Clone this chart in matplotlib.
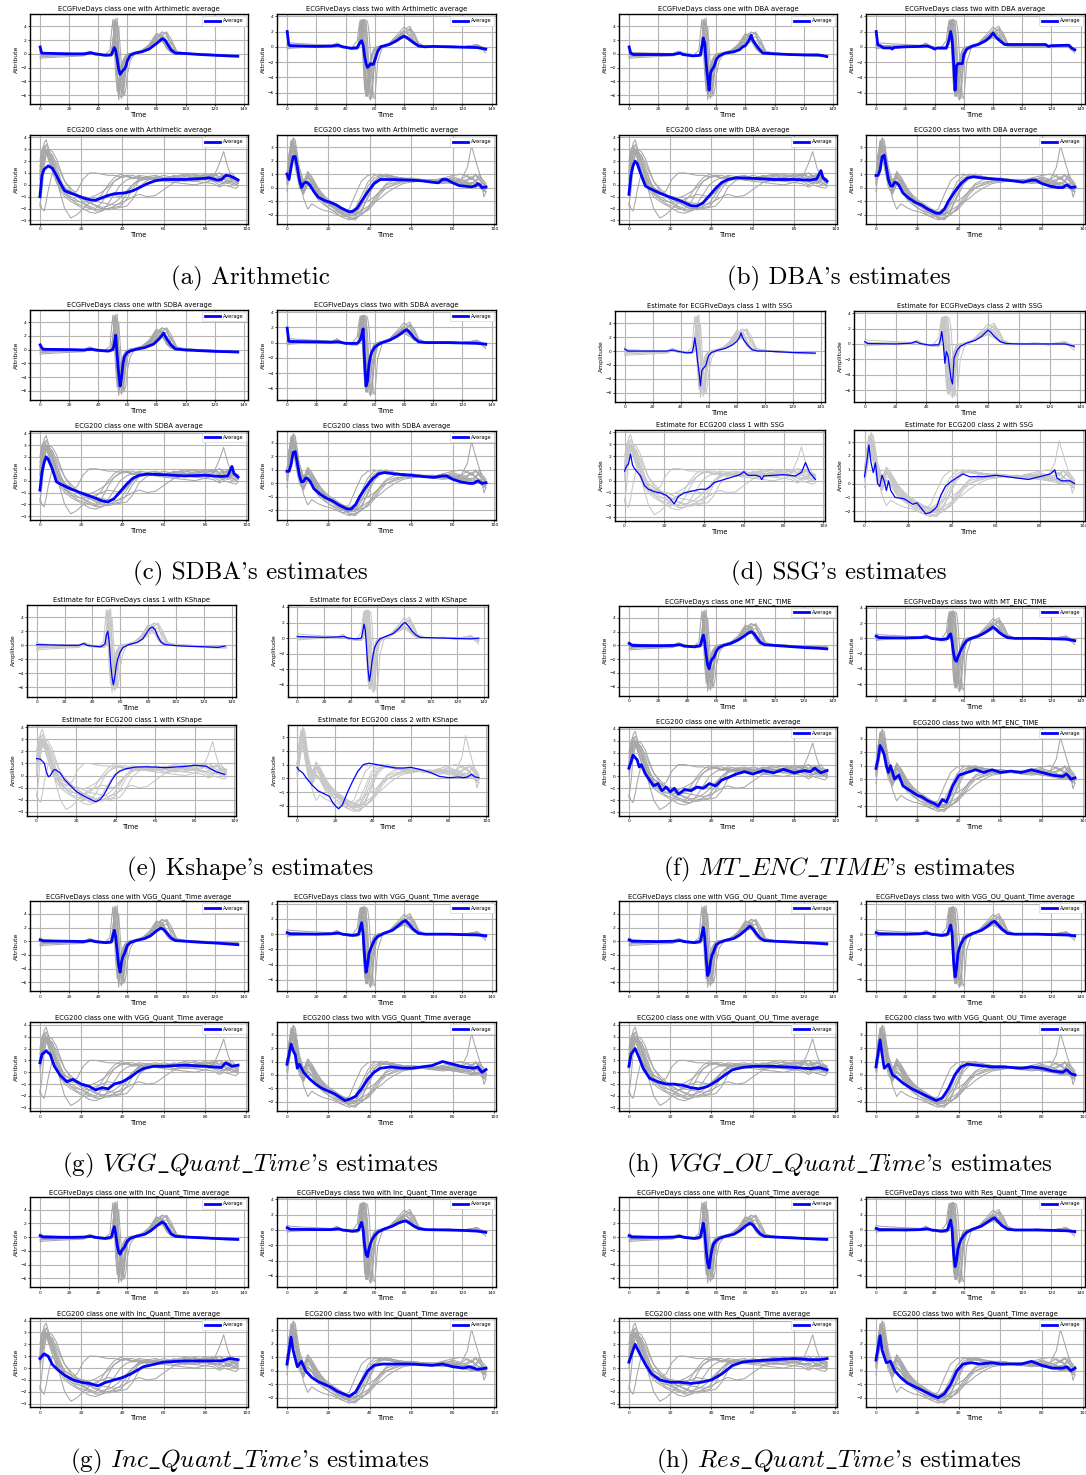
import matplotlib
matplotlib.use("Agg")
import matplotlib.pyplot as plt

W, H = 1086, 1475
plt.rcParams["mathtext.fontset"] = "cm"

# --- sample grids (time index) ---
T5 = [0, 2, 10, 20, 30, 34, 38, 44, 48, 49, 50, 51, 52, 53, 54, 55, 56, 57, 58,
      59, 60, 62, 65, 70, 75, 80, 84, 87, 90, 94, 100, 110, 120, 130, 136]
T2 = [0, 1, 2, 3, 4, 6, 8, 10, 12, 15, 18, 21, 24, 27, 30, 33, 36, 39, 42, 45,
      48, 52, 56, 60, 65, 70, 75, 80, 84, 87, 89, 91, 93, 95, 96]

# --- grey series: ECGFiveDays class one / two ---
E5_ONE = [
    [0.3, 0.1, 0.1, 0.0, 0.0, 0.3, 0.0, -0.2, -0.2, 0.0, 1.0, 4.8, 2.0, -2.5, -5.5, -4.5, -3.0, -2.0, -1.2, -0.6, -0.3, 0.0, 0.1, 0.4, 0.9, 2.2, 2.8, 1.6, 0.5, 0.1, 0.0, -0.1, -0.2, -0.3, -0.3],
    [-0.7, -0.6, -0.5, -0.4, -0.3, 0.1, -0.2, -0.3, -0.3, -0.1, 0.3, 1.5, 5.1, 3.0, -2.0, -6.0, -6.5, -4.0, -2.0, -1.0, -0.5, -0.1, 0.1, 0.4, 1.0, 2.6, 3.2, 2.8, 1.0, 0.1, 0.0, -0.1, -0.3, -0.4, -0.4],
    [0.5, 0.2, 0.1, 0.1, 0.0, 0.4, 0.1, -0.1, -0.1, 0.2, 0.8, 2.0, 0.5, -3.0, -5.0, -4.0, -2.5, -1.5, -0.8, -0.3, -0.1, 0.0, 0.2, 0.5, 1.1, 2.0, 2.4, 1.2, 0.3, 0.0, 0.0, -0.1, -0.2, -0.2, -0.2],
    [-0.2, -0.2, -0.1, -0.1, -0.1, 0.2, -0.1, -0.2, -0.2, -0.1, 0.0, 0.5, 2.5, 5.2, 1.0, -3.0, -6.0, -6.2, -3.5, -1.5, -0.6, -0.1, 0.1, 0.4, 1.0, 2.2, 3.1, 3.0, 1.5, 0.2, 0.1, 0.0, -0.1, -0.2, -0.3],
    [0.0, 0.0, 0.0, -0.1, -0.1, 0.2, 0.0, -0.2, -0.2, 0.5, 2.0, 3.5, 0.0, -4.0, -5.8, -4.0, -2.2, -1.3, -0.7, -0.3, -0.1, 0.0, 0.1, 0.3, 0.8, 1.6, 1.8, 1.0, 0.3, 0.0, 0.0, -0.1, -0.2, -0.2, -0.3],
    [0.2, 0.1, 0.0, 0.0, -0.1, 0.1, -0.1, -0.3, -0.3, -0.2, 0.2, 1.0, 3.0, 2.0, -1.0, -4.5, -5.5, -5.0, -3.0, -1.5, -0.7, -0.2, 0.0, 0.4, 1.2, 2.8, 2.6, 1.4, 0.4, 0.1, 0.0, -0.1, -0.2, -0.3, -0.3],
    [-0.4, -0.3, -0.3, -0.2, -0.2, 0.2, 0.0, -0.2, -0.2, 0.3, 1.5, 5.0, 1.0, -3.5, -6.7, -5.0, -3.0, -1.8, -1.0, -0.5, -0.2, 0.0, 0.1, 0.5, 1.4, 3.0, 2.2, 0.8, 0.2, 0.0, 0.0, -0.1, -0.2, -0.2, -0.3],
    [0.1, 0.0, 0.0, 0.0, 0.0, 0.3, 0.0, -0.2, -0.2, -0.1, 0.1, 0.3, 1.2, 2.0, 0.5, -2.0, -4.5, -5.8, -4.5, -2.5, -1.2, -0.3, 0.0, 0.3, 0.8, 1.8, 2.3, 2.5, 1.8, 0.3, 0.1, 0.0, -0.1, -0.2, -0.2],
    [0.4, 0.2, 0.1, 0.0, 0.0, 0.3, 0.0, -0.2, 0.5, 3.0, 5.0, 1.0, -3.0, -5.5, -4.0, -2.5, -1.5, -0.9, -0.5, -0.2, 0.0, 0.1, 0.2, 0.5, 1.2, 2.5, 2.0, 0.8, 0.2, 0.0, 0.0, -0.1, -0.2, -0.2, -0.3],
    [-0.5, -0.4, -0.3, -0.2, -0.2, 0.1, -0.1, -0.2, -0.2, -0.2, 0.0, 0.2, 0.5, 1.5, 4.0, 1.0, -2.0, -4.5, -6.0, -5.0, -3.0, -1.0, 0.0, 0.3, 0.7, 1.5, 2.6, 3.2, 2.2, 0.4, 0.1, 0.0, -0.1, -0.2, -0.3],
]
E5_TWO = [
    [0.3, 0.2, 0.1, 0.1, 0.1, 0.4, 0.0, -0.2, -0.2, 0.5, 2.5, 3.5, 3.0, 0.0, -4.0, -6.0, -5.0, -3.0, -1.5, -0.8, -0.3, 0.0, 0.1, 0.4, 1.0, 1.6, 1.0, 0.4, 0.1, 0.0, 0.0, 0.1, 0.0, 0.2, -0.3],
    [-0.3, -0.2, -0.1, 0.0, 0.0, 0.3, -0.1, -0.3, -0.3, 0.0, 1.0, 3.0, 3.6, 3.5, 1.0, -3.0, -6.5, -7.0, -5.0, -2.5, -1.0, -0.2, 0.1, 0.5, 1.5, 2.6, 2.0, 0.8, 0.2, 0.0, 0.1, 0.0, -0.1, 0.3, -0.5],
    [0.6, 0.5, 0.4, 0.3, 0.2, 0.3, 0.0, -0.2, -0.2, 0.3, 2.0, 3.5, 1.0, -3.0, -6.5, -5.5, -3.5, -2.0, -1.0, -0.5, -0.2, 0.0, 0.1, 0.3, 0.8, 1.2, 0.8, 0.3, 0.1, 0.0, 0.0, 0.0, 0.0, 0.1, -0.2],
    [0.0, 0.0, 0.0, 0.0, 0.0, 0.2, -0.1, -0.2, -0.2, -0.1, 0.5, 1.5, 3.0, 3.5, 3.2, 1.0, -2.5, -6.0, -6.8, -4.0, -2.0, -0.5, 0.0, 0.4, 1.2, 2.2, 2.7, 1.5, 0.4, 0.1, 0.0, 0.0, -0.1, 0.2, -0.8],
    [0.2, 0.1, 0.1, 0.1, 0.1, 0.5, 0.0, -0.2, -0.2, 0.8, 3.2, 2.5, -1.0, -5.0, -6.0, -4.5, -2.8, -1.8, -1.0, -0.4, -0.1, 0.0, 0.1, 0.4, 1.0, 1.5, 1.2, 0.5, 0.1, 0.0, 0.0, 0.1, 0.0, 0.2, -0.2],
    [-0.2, -0.1, 0.0, 0.0, 0.0, 0.3, -0.1, -0.2, -0.3, 0.2, 1.5, 3.4, 3.5, 2.0, -1.5, -5.5, -6.0, -4.5, -3.0, -1.8, -0.8, -0.1, 0.1, 0.5, 1.3, 2.0, 1.6, 0.6, 0.1, 0.0, 0.0, 0.0, -0.1, 0.3, -0.4],
    [0.1, 0.1, 0.1, 0.0, 0.0, 0.3, 0.0, -0.2, -0.2, 0.0, 0.8, 2.0, 3.5, 3.6, 2.5, -1.0, -4.5, -6.8, -6.0, -3.5, -1.5, -0.3, 0.0, 0.3, 1.0, 1.8, 2.3, 1.2, 0.3, 0.0, 0.0, 0.0, -0.1, 0.2, -0.3],
    [0.3, 0.2, 0.1, 0.1, 0.0, 0.3, 0.0, -0.3, -0.3, 0.4, 2.8, 3.5, 2.0, -2.0, -5.5, -6.5, -5.0, -3.0, -1.5, -0.7, -0.3, 0.0, 0.1, 0.4, 0.9, 1.3, 1.1, 0.4, 0.1, 0.0, 0.0, 0.1, 0.0, 0.2, -0.2],
    [0.2, 0.1, 0.1, 0.0, 0.0, 0.3, 0.0, -0.2, -0.2, -0.1, 0.3, 1.0, 2.0, 3.0, 3.5, 3.3, 2.0, -1.0, -4.0, -6.5, -6.8, -2.0, -0.2, 0.3, 0.9, 1.8, 2.4, 1.8, 0.5, 0.1, 0.0, 0.0, -0.1, 0.2, -0.4],
    [0.0, 0.0, 0.0, 0.0, 0.0, 0.4, 0.0, -0.2, 0.8, 2.5, 3.5, 2.5, -2.0, -5.5, -6.5, -5.0, -3.0, -2.0, -1.2, -0.6, -0.3, 0.0, 0.1, 0.4, 1.1, 2.0, 1.4, 0.5, 0.1, 0.0, 0.0, 0.0, 0.0, 0.3, -0.3],
]

# --- grey series: ECG200 class one / two ---
E2_ONE = [
    [1.0, 2.5, 3.5, 3.8, 3.2, 2.0, 0.8, 0.0, -0.5, -0.8, -0.5, 0.5, 1.0, 1.0, 0.9, 0.8, 0.8, 0.7, 0.8, 0.6, 0.7, 0.5, 0.6, 0.5, 0.7, 0.8, 0.6, 0.8, 0.9, 0.6, 0.7, 0.9, 0.4, 0.5, 0.3],
    [-1.8, -0.5, 1.5, 2.5, 2.8, 2.5, 1.5, 0.5, -0.5, -1.2, -1.6, -1.8, -2.0, -2.1, -2.0, -2.0, -1.9, -1.8, -1.2, -0.3, 0.3, 0.5, 0.4, 0.5, 0.3, 0.4, 0.3, 0.2, 0.4, 0.2, 0.1, 0.3, 0.0, 0.2, 0.1],
    [-1.5, -2.0, -2.2, -1.5, -0.5, 1.0, 0.5, -0.8, -2.0, -2.8, -2.5, -2.0, -1.5, -1.2, -1.0, -0.8, -0.9, -1.0, -0.5, 0.0, 0.5, 0.6, 0.5, 0.6, 0.5, 0.4, 0.6, 0.5, 0.3, 0.4, 0.2, 0.1, 0.3, 0.0, -0.1],
    [0.5, 1.5, 2.5, 3.0, 2.8, 2.0, 1.0, 0.0, -0.8, -1.2, -1.4, -1.5, -1.8, -2.0, -1.5, -0.5, 0.3, 0.7, 0.8, 0.8, 0.6, 0.5, 0.6, 0.4, 0.5, 0.6, 0.5, 0.4, 0.6, 1.8, 2.8, 1.5, 0.6, 0.3, 0.2],
    [2.0, 3.0, 3.3, 3.0, 2.5, 1.5, 0.8, 0.2, -0.3, -0.6, -0.9, -1.0, -1.1, -0.9, -0.6, -0.2, 0.3, 0.6, 0.7, 0.6, 0.8, 0.7, 0.4, 0.3, 0.2, 0.1, 0.0, 0.2, 0.1, -0.2, 0.0, -0.1, -0.2, -0.3, -0.1],
    [0.8, 2.0, 2.8, 3.0, 2.6, 1.8, 0.6, -0.3, -0.7, -1.0, -1.3, -1.6, -1.9, -2.2, -2.2, -2.0, -1.8, -1.5, -0.8, 0.0, 0.4, 0.7, 0.8, 0.6, 0.7, 0.9, 0.8, 0.6, 0.9, 0.7, 0.8, 0.5, 0.6, 0.4, 0.5],
    [1.5, 2.8, 3.0, 2.7, 2.2, 1.2, 0.3, -0.3, -0.6, -0.8, -0.9, -1.0, -1.2, -1.4, -1.5, -1.6, -1.7, -1.6, -1.3, -1.0, -0.8, -1.0, -0.9, -0.4, 0.2, 0.4, 0.3, 0.5, 0.3, 0.0, 0.2, 0.4, 0.2, 0.0, 0.1],
    [0.3, 1.2, 2.2, 2.8, 3.0, 2.8, 2.2, 1.2, 0.3, -0.5, -1.0, -1.4, -1.5, -1.4, -0.8, 0.0, 0.6, 0.9, 0.7, 0.5, 0.6, 0.4, 0.7, 0.5, 0.8, 0.5, 0.7, 0.9, 0.7, 1.0, 0.8, 0.7, 1.0, 0.5, 0.4],
    [0.0, 1.0, 2.0, 2.5, 2.8, 2.5, 1.8, 1.0, 0.3, -0.3, -0.8, -1.2, -1.5, -1.8, -2.0, -2.1, -2.0, -1.9, -1.8, -1.2, -0.2, 0.4, 0.5, 0.4, 0.6, 0.5, 0.6, 0.5, 0.7, 0.5, 0.6, 0.3, 0.5, 0.2, 0.1],
    [1.2, 2.2, 3.0, 3.4, 3.0, 2.2, 1.2, 0.4, -0.2, -0.6, -0.9, -1.2, -1.5, -1.7, -1.9, -1.8, -1.5, -1.1, -0.6, 0.0, 0.4, 0.6, 0.5, 0.4, 0.5, 0.3, 0.4, 0.6, 0.4, 0.3, 0.5, 0.2, 0.4, 0.6, 0.5],
    [0.5, 1.8, 2.6, 2.9, 2.4, 1.2, 0.2, -0.5, -1.0, -1.4, -1.7, -2.0, -2.3, -2.4, -2.2, -1.6, -0.8, 0.0, 0.4, 0.6, 0.5, 0.7, 0.6, 0.8, 0.6, 0.7, 0.9, 0.7, 0.8, 1.0, 0.6, 0.8, 0.7, 0.6, 0.3],
]
E2_TWO = [
    [0.5, 1.5, 3.0, 3.6, 3.2, 1.0, 0.2, 0.8, 0.5, -0.3, -0.8, -1.1, -1.4, -1.7, -1.9, -2.0, -1.3, -0.3, 0.5, 0.8, 0.8, 0.7, 0.6, 0.6, 0.5, 0.5, 0.4, 0.3, 0.2, 0.1, 0.0, 0.2, 0.1, 0.0, -0.1],
    [0.8, 2.0, 3.3, 3.0, 2.0, 0.3, -0.2, 0.5, 0.3, -0.5, -1.0, -1.4, -1.7, -2.0, -2.2, -2.3, -2.0, -1.5, -0.8, -0.2, 0.3, 0.6, 0.7, 0.6, 0.5, 0.5, 0.6, 0.4, 0.3, 0.4, 0.2, 0.1, 0.3, -0.2, -0.3],
    [-0.3, 1.0, 2.5, 3.7, 3.5, 1.5, 0.5, 1.0, 0.2, -0.6, -1.2, -1.6, -1.9, -2.2, -2.4, -2.2, -2.0, -1.6, -1.0, -0.3, 0.2, 0.4, 0.5, 0.6, 0.6, 0.5, 0.7, 0.5, 0.6, 1.5, 3.1, 2.0, 1.0, 0.3, 0.0],
    [1.0, 2.5, 3.0, 2.6, 1.5, 0.0, -0.5, 0.3, 0.0, -0.7, -1.0, -1.2, -1.5, -1.8, -1.6, -0.5, 0.5, 0.9, 1.0, 0.9, 0.8, 0.7, 0.6, 0.7, 0.6, 0.5, 0.4, 0.5, 0.3, 0.2, 0.4, 0.2, 0.0, -0.3, -0.1],
    [0.2, 1.2, 2.8, 3.3, 2.8, 0.8, 0.0, 0.7, 0.4, -0.4, -0.9, -1.3, -1.6, -1.9, -2.1, -2.1, -1.6, -0.8, 0.2, 0.7, 0.9, 0.8, 0.7, 0.6, 0.5, 0.6, 0.5, 0.3, 0.6, 0.9, 0.7, 1.0, 0.5, 0.3, 0.2],
    [0.6, 1.8, 2.0, 2.2, 1.8, 0.5, -0.8, -1.6, -1.2, -1.5, -1.7, -1.8, -2.0, -2.2, -2.0, -1.6, -1.2, -1.0, -0.7, -0.3, 0.0, 0.2, 0.4, 0.5, 0.6, 0.4, 0.6, 0.7, 0.5, 0.6, 0.8, 0.5, 1.0, -0.7, -0.3],
    [1.0, 2.2, 3.4, 3.2, 2.5, 1.0, 0.3, 1.2, 0.8, 0.0, -0.7, -1.2, -1.6, -1.9, -2.3, -2.4, -1.8, -0.6, 0.4, 0.9, 1.0, 0.8, 0.7, 0.7, 0.6, 0.6, 0.5, 0.5, 0.4, 0.3, 0.1, 0.0, 0.2, 0.0, 0.1],
    [0.4, 1.0, 2.2, 2.8, 2.4, 0.6, -0.3, 0.3, 0.0, -0.8, -1.1, -1.3, -1.5, -1.6, -1.8, -1.9, -1.9, -1.7, -1.2, -0.5, 0.0, 0.3, 0.5, 0.4, 0.6, 0.4, 0.3, 0.4, 0.2, 0.3, 0.0, 0.4, 0.3, 0.1, 0.0],
    [0.7, 1.6, 2.6, 3.1, 2.6, 0.9, 0.1, 0.9, 0.6, -0.2, -0.8, -1.2, -1.5, -1.8, -2.0, -1.9, -1.0, 0.1, 0.7, 0.9, 0.8, 0.7, 0.6, 0.5, 0.6, 0.5, 0.7, 0.9, 1.0, 0.8, 0.6, 0.9, 0.6, 0.2, 0.1],
    [0.3, 0.9, 1.8, 2.4, 2.2, 0.4, -0.4, 0.2, -0.1, -0.9, -1.3, -1.6, -1.8, -2.0, -2.1, -2.0, -1.7, -1.4, -1.1, -0.8, -0.4, 0.0, 0.3, 0.4, 0.5, 0.4, 0.5, 0.6, 0.4, 0.5, 0.7, 0.4, 0.8, 0.5, 0.3],
    [0.9, 2.4, 3.5, 3.4, 2.8, 1.2, 0.4, 1.1, 0.7, -0.1, -0.6, -1.0, -1.3, -1.6, -1.8, -1.5, -0.6, 0.4, 0.9, 1.0, 0.9, 0.8, 0.6, 0.6, 0.5, 0.4, 0.5, 0.8, 0.6, 0.4, 0.3, 0.5, 0.2, -0.2, 0.0],
]

# --- averages / estimates, (time, value) ---
ARITH_5A = [(0, 1.0), (1, 0.1), (10, 0.05), (20, 0.0), (30, 0.0), (35, 0.15), (38, 0.0), (45, -0.2), (49, -0.15), (50, 0.4), (51, 0.9), (52, 0.5), (53, -0.8), (54, -2.2), (55, -3.0), (56, -2.7), (57, -2.4), (58, -2.2), (59, -1.8), (60, -1.0), (62, -0.2), (65, 0.1), (70, 0.3), (75, 0.7), (80, 1.5), (84, 2.2), (86, 2.0), (88, 1.3), (90, 0.6), (93, 0.1), (100, 0.05), (110, -0.1), (120, -0.2), (130, -0.3), (136, -0.35)]
ARITH_5B = [(0, 2.0), (1, 0.3), (2, 0.15), (20, 0.05), (30, 0.1), (35, 0.2), (38, 0.0), (44, -0.2), (48, -0.1), (49, 0.3), (50, 0.6), (51, 0.8), (52, 0.2), (53, -1.2), (54, -2.2), (55, -2.7), (56, -2.5), (57, -2.2), (58, -2.3), (59, -2.3), (60, -1.8), (62, -0.6), (64, 0.0), (70, 0.3), (75, 0.8), (78, 1.2), (80, 1.4), (82, 1.2), (84, 0.9), (87, 0.5), (90, 0.1), (94, 0.0), (100, 0.05), (110, 0.0), (120, -0.05), (130, -0.1), (136, -0.3)]
ARITH_2A = [(0, -1.0), (1, 0.8), (2, 1.3), (4, 1.6), (6, 1.4), (8, 0.8), (10, 0.1), (12, -0.5), (15, -0.7), (18, -0.9), (21, -1.1), (24, -1.25), (27, -1.3), (30, -1.1), (33, -0.9), (36, -0.75), (40, -0.7), (42, -0.65), (45, -0.5), (48, -0.25), (52, 0.1), (56, 0.35), (60, 0.45), (65, 0.45), (70, 0.45), (75, 0.5), (80, 0.55), (82, 0.6), (84, 0.5), (86, 0.4), (88, 0.45), (90, 0.8), (92, 0.75), (94, 0.6), (96, 0.4)]
ARITH_2B = [(0, 1.0), (1, 0.6), (2, 1.5), (3, 2.3), (4, 2.3), (5, 1.5), (6, 0.6), (7, 0.0), (8, 0.3), (9, 0.4), (10, 0.35), (11, 0.2), (13, -0.3), (15, -0.7), (18, -0.95), (21, -1.1), (24, -1.3), (26, -1.5), (28, -1.65), (30, -1.8), (32, -1.75), (34, -1.5), (36, -1.0), (39, -0.3), (42, 0.3), (45, 0.6), (50, 0.6), (60, 0.55), (65, 0.5), (70, 0.4), (73, 0.35), (75, 0.6), (77, 0.6), (80, 0.35), (83, 0.15), (86, 0.1), (89, 0.05), (91, 0.15), (92, 0.3), (93, 0.2), (94, 0.0), (96, 0.05)]

DBA_5A = [(0, 1.0), (1, 0.1), (3, -0.1), (20, -0.1), (30, -0.1), (35, 0.1), (37, -0.1), (44, -0.3), (49, -0.2), (50, 1.0), (51, 2.3), (52, 1.5), (53, -1.5), (54, -3.5), (55, -5.3), (56, -2.8), (57, -2.3), (58, -2.0), (59, -1.5), (60, -0.8), (62, -0.3), (66, 0.1), (72, 0.3), (76, 0.6), (78, 1.0), (80, 1.2), (82, 1.8), (84, 2.7), (85, 2.0), (87, 1.4), (89, 0.8), (92, 0.1), (100, 0.0), (110, -0.1), (120, -0.15), (130, -0.15), (134, -0.3), (136, -0.4)]
DBA_5B = [(0, 2.0), (1, 0.3), (3, 0.1), (5, -0.15), (10, -0.15), (11, -0.3), (12, -0.1), (20, 0.0), (30, 0.05), (35, 0.1), (38, -0.1), (40, -0.3), (42, -0.15), (48, -0.15), (50, 1.0), (51, 2.0), (52, 1.0), (53, -2.0), (54, -5.7), (55, -2.5), (56, -2.2), (59, -2.2), (60, -1.0), (62, -0.3), (66, 0.1), (70, 0.3), (75, 0.8), (78, 1.3), (80, 1.8), (82, 1.3), (84, 0.9), (86, 0.6), (88, 0.3), (100, 0.3), (110, 0.3), (116, 0.3), (118, 0.05), (120, 0.15), (130, 0.2), (132, 0.2), (134, -0.2), (136, -0.4)]
DBA_2A = [(0, -0.8), (1, 0.8), (2, 1.6), (3, 2.0), (4, 1.8), (6, 0.8), (8, -0.1), (10, -0.3), (15, -0.7), (20, -1.05), (25, -1.35), (30, -1.75), (33, -1.8), (36, -1.5), (39, -0.9), (42, -0.3), (45, 0.2), (48, 0.45), (52, 0.6), (60, 0.55), (70, 0.45), (80, 0.45), (88, 0.4), (91, 0.5), (93, 1.2), (94, 0.6), (96, 0.3)]
DBA_2B = [(0, 0.9), (1, 0.9), (2, 1.3), (3, 2.3), (4, 2.4), (5, 1.5), (6, 0.6), (7, 0.15), (8, 0.1), (9, 0.4), (10, 0.35), (11, 0.2), (13, -0.4), (16, -0.8), (19, -1.1), (22, -1.3), (25, -1.6), (29, -1.9), (31, -1.9), (33, -1.6), (35, -1.0), (38, -0.3), (41, 0.3), (44, 0.7), (47, 0.8), (52, 0.7), (60, 0.6), (66, 0.5), (71, 0.4), (75, 0.55), (77, 0.55), (80, 0.3), (84, 0.1), (88, 0.0), (90, 0.0), (92, 0.2), (94, 0.0), (96, 0.05)]

SDBA_5A = [(0, 0.7), (1, 0.3), (2, 0.05), (20, 0.0), (30, -0.05), (35, 0.05), (40, -0.1), (47, -0.2), (50, 0.0), (51, 0.8), (52, 2.1), (53, -1.0), (54, -3.5), (55, -5.3), (56, -4.0), (57, -2.0), (58, -1.0), (60, -0.4), (62, -0.2), (66, 0.05), (72, 0.3), (78, 0.8), (82, 1.6), (85, 2.4), (87, 1.6), (90, 0.7), (93, 0.1), (100, -0.05), (110, -0.15), (120, -0.25), (130, -0.3), (136, -0.35)]
SDBA_5B = [(0, 1.9), (1, 0.2), (2, 0.15), (20, 0.1), (30, 0.05), (35, 0.1), (40, -0.1), (48, -0.1), (50, 0.3), (51, 1.0), (52, 1.8), (53, -2.5), (54, -5.7), (55, -5.0), (56, -2.8), (57, -1.8), (58, -1.2), (60, -0.6), (62, -0.3), (65, 0.0), (70, 0.3), (75, 0.8), (78, 1.2), (80, 1.5), (82, 1.7), (84, 1.3), (87, 0.6), (90, 0.1), (95, 0.0), (110, 0.0), (120, -0.05), (130, -0.1), (136, -0.2)]
SDBA_2A = [(0, -0.8), (1, 0.7), (2, 1.5), (3, 2.0), (4, 1.8), (6, 1.0), (8, -0.1), (10, -0.3), (15, -0.7), (20, -1.05), (25, -1.35), (30, -1.7), (33, -1.8), (36, -1.5), (39, -0.9), (42, -0.3), (45, 0.2), (48, 0.45), (52, 0.55), (60, 0.5), (70, 0.4), (80, 0.45), (88, 0.35), (91, 0.4), (93, 1.2), (94, 0.6), (96, 0.3)]
SDBA_2B = [(0, 0.9), (1, 0.9), (2, 1.4), (3, 2.3), (4, 2.35), (5, 1.5), (6, 0.6), (7, 0.1), (8, 0.15), (9, 0.4), (10, 0.35), (11, 0.2), (13, -0.4), (16, -0.8), (19, -1.1), (22, -1.3), (25, -1.6), (29, -1.9), (31, -1.9), (33, -1.6), (35, -1.0), (38, -0.3), (41, 0.3), (44, 0.7), (47, 0.8), (52, 0.7), (60, 0.6), (66, 0.5), (71, 0.45), (75, 0.55), (77, 0.55), (80, 0.3), (84, 0.1), (88, 0.0), (90, 0.0), (92, 0.2), (94, 0.0), (96, 0.05)]

SSG_5A = [(0, 0.3), (2, 0.0), (20, 0.0), (30, 0.0), (34, 0.15), (37, 0.0), (44, -0.25), (48, -0.2), (49, 0.5), (50, 1.9), (51, 0.5), (52, -1.5), (53, -3.0), (54, -5.0), (55, -2.8), (56, -2.5), (57, -2.3), (58, -2.0), (59, -1.2), (60, -0.6), (62, -0.2), (66, 0.1), (72, 0.4), (77, 0.9), (80, 1.4), (82, 2.0), (83, 2.6), (84, 2.0), (85, 1.6), (88, 0.8), (91, 0.2), (95, 0.0), (100, 0.0), (110, -0.1), (120, -0.2), (130, -0.25), (136, -0.3)]
SSG_5B = [(0, 0.3), (2, 0.05), (20, 0.0), (30, 0.1), (33, 0.3), (36, 0.05), (42, -0.15), (48, -0.1), (49, 0.5), (50, 1.6), (51, 0.0), (52, -2.5), (53, -1.0), (54, -1.5), (55, -3.0), (56, -4.5), (57, -5.2), (58, -1.8), (60, -0.8), (62, -0.3), (66, 0.1), (72, 0.5), (76, 1.0), (80, 1.8), (82, 1.5), (84, 1.0), (88, 0.3), (92, 0.05), (100, 0.0), (110, 0.0), (120, 0.0), (130, 0.0), (136, -0.3)]
SSG_2A = [(0, 0.8), (1, 1.2), (2, 1.4), (3, 2.2), (4, 1.3), (5, 1.0), (6, 0.8), (8, 0.4), (10, -0.4), (12, -0.7), (15, -0.9), (18, -1.0), (21, -1.2), (23, -1.5), (25, -1.9), (27, -1.3), (30, -1.0), (34, -0.85), (38, -0.7), (41, -0.7), (43, -0.5), (45, -0.15), (50, 0.1), (55, 0.35), (58, 0.5), (60, 0.75), (62, 0.45), (66, 0.45), (68, 0.35), (69, 0.1), (70, 0.4), (75, 0.45), (80, 0.5), (86, 0.4), (89, 0.7), (91, 1.5), (93, 0.7), (96, 0.1)]
SSG_2B = [(0, 0.5), (1, 1.5), (2, 2.8), (3, 1.5), (4, 0.8), (5, 1.5), (6, 0.0), (7, -0.2), (8, 0.6), (9, 0.2), (10, -0.5), (11, 0.2), (12, -0.5), (14, -1.0), (18, -1.1), (20, -1.3), (22, -1.5), (24, -1.4), (26, -1.8), (28, -2.2), (30, -2.1), (31, -2.0), (33, -1.7), (35, -0.8), (37, -0.2), (40, 0.2), (43, 0.5), (45, 0.7), (48, 0.5), (55, 0.5), (60, 0.6), (65, 0.5), (70, 0.4), (75, 0.3), (80, 0.5), (85, 0.7), (87, 1.0), (88, 0.4), (90, 0.2), (94, 0.2), (96, 0.0)]

KSHAPE_5A = [(0, 0.1), (10, 0.05), (20, 0.0), (30, 0.0), (33, 0.2), (34, 0.25), (36, 0.0), (40, -0.1), (46, -0.2), (49, 0.2), (50, 1.5), (51, 2.0), (52, 0.5), (53, -2.5), (54, -4.5), (55, -5.6), (56, -4.5), (57, -3.0), (58, -2.0), (60, -0.9), (62, -0.3), (66, 0.1), (72, 0.4), (76, 0.9), (79, 1.8), (81, 2.4), (83, 2.6), (85, 2.2), (87, 1.2), (89, 0.5), (92, 0.1), (100, -0.05), (110, -0.15), (120, -0.2), (130, -0.3), (135, -0.1)]
KSHAPE_5B = [(0, 0.2), (10, 0.15), (20, 0.1), (30, 0.15), (35, 0.2), (38, 0.0), (44, -0.1), (48, 0.0), (49, 0.8), (50, 1.8), (51, 1.0), (52, -1.5), (53, -4.0), (54, -5.5), (55, -4.5), (56, -3.0), (57, -2.0), (58, -1.2), (60, -0.5), (62, -0.1), (66, 0.2), (72, 0.6), (76, 1.2), (79, 1.8), (81, 2.0), (83, 1.6), (86, 0.9), (89, 0.4), (92, 0.1), (100, 0.05), (110, 0.0), (120, -0.05), (130, -0.1), (136, 0.0)]
KSHAPE_2A = [(0, 1.4), (2, 1.35), (4, 1.0), (5, 0.3), (6, -0.1), (7, 0.0), (8, 0.3), (9, 0.5), (10, 0.45), (12, 0.2), (14, -0.3), (17, -0.8), (20, -1.3), (23, -1.6), (26, -1.85), (29, -2.1), (30, -2.15), (32, -2.0), (34, -1.6), (36, -1.0), (38, -0.4), (40, 0.1), (42, 0.35), (45, 0.55), (50, 0.7), (55, 0.72), (60, 0.7), (65, 0.65), (70, 0.7), (75, 0.75), (80, 0.85), (84, 0.8), (86, 0.75), (88, 0.55), (91, 0.3), (95, 0.1)]
KSHAPE_2B = [(0, 0.8), (1, 0.6), (3, 0.4), (5, 0.0), (8, -0.5), (11, -0.9), (14, -1.1), (17, -1.3), (19, -1.8), (21, -2.1), (22, -2.2), (24, -1.9), (26, -1.2), (29, -0.3), (32, 0.5), (35, 1.0), (38, 1.1), (42, 1.0), (48, 0.85), (52, 0.75), (56, 0.75), (60, 0.8), (65, 0.65), (70, 0.45), (75, 0.15), (80, 0.05), (85, 0.1), (88, 0.05), (90, 0.1), (92, 0.3), (94, 0.1), (96, 0.05)]

MT_5A = [(0, 0.3), (2, 0.0), (20, -0.05), (30, 0.0), (35, 0.1), (38, -0.1), (45, -0.2), (49, 0.0), (50, 0.8), (51, 1.5), (52, 0.5), (53, -1.5), (54, -2.8), (55, -3.4), (56, -2.5), (57, -2.0), (58, -1.8), (59, -1.4), (60, -0.8), (62, -0.3), (65, 0.0), (70, 0.3), (75, 0.8), (78, 1.2), (80, 1.5), (82, 1.8), (84, 2.0), (86, 1.7), (88, 1.1), (90, 0.5), (93, 0.1), (100, 0.0), (110, -0.15), (120, -0.3), (130, -0.4), (136, -0.5)]
MT_5B = [(0, 0.3), (2, 0.1), (20, 0.05), (30, 0.1), (35, 0.2), (38, 0.0), (45, -0.15), (49, 0.0), (50, 0.4), (51, 0.6), (52, -0.5), (53, -2.0), (54, -2.8), (55, -3.0), (56, -2.4), (57, -2.0), (58, -1.5), (60, -0.8), (62, -0.3), (65, 0.0), (70, 0.3), (75, 0.8), (78, 1.2), (80, 1.5), (82, 1.2), (84, 0.8), (87, 0.4), (90, 0.1), (95, 0.0), (110, 0.0), (120, -0.05), (130, -0.1), (136, -0.3)]
MT_2A = [(0, 0.7), (1, 1.2), (2, 1.8), (3, 1.6), (4, 1.4), (5, 0.8), (6, 1.0), (8, 0.2), (10, -0.3), (12, -0.8), (14, -0.6), (16, -1.2), (18, -0.9), (20, -1.3), (22, -1.0), (24, -1.5), (27, -1.1), (30, -1.2), (33, -0.9), (36, -1.0), (39, -0.6), (42, -0.8), (45, -0.3), (48, -0.1), (52, 0.2), (56, 0.4), (60, 0.2), (65, 0.5), (70, 0.3), (75, 0.6), (80, 0.3), (85, 0.5), (88, 0.4), (90, 0.7), (93, 0.3), (96, 0.5)]
MT_2B = [(0, 0.8), (1, 1.5), (2, 2.5), (3, 2.2), (4, 1.8), (5, 1.0), (6, 0.5), (7, 1.0), (9, 0.0), (11, 0.3), (13, -0.5), (16, -0.8), (18, -1.0), (20, -1.2), (22, -1.3), (25, -1.6), (28, -1.8), (30, -2.0), (32, -1.5), (34, -1.7), (37, -0.5), (40, 0.3), (44, 0.5), (48, 0.7), (52, 0.5), (56, 0.7), (60, 0.5), (65, 0.6), (70, 0.5), (75, 0.7), (80, 0.5), (85, 0.3), (90, 0.2), (92, 0.4), (94, 0.0), (96, 0.1)]

VGG_5A = [(0, 0.2), (2, 0.05), (20, 0.0), (30, -0.05), (35, 0.1), (38, -0.05), (45, -0.2), (49, -0.1), (50, 0.8), (51, 1.6), (52, 0.6), (53, -1.5), (54, -3.5), (55, -4.5), (56, -3.0), (57, -2.2), (58, -1.8), (59, -1.2), (60, -0.6), (62, -0.2), (66, 0.1), (72, 0.4), (76, 0.8), (80, 1.5), (83, 1.9), (85, 1.7), (88, 1.0), (90, 0.5), (93, 0.1), (100, 0.0), (110, -0.15), (120, -0.25), (130, -0.4), (136, -0.5)]
VGG_5B = [(0, 0.2), (2, 0.05), (20, 0.0), (30, 0.05), (35, 0.15), (38, 0.0), (45, -0.15), (49, 0.0), (50, 0.8), (51, 1.5), (52, 0.0), (53, -3.0), (54, -5.0), (55, -4.0), (56, -2.5), (57, -2.0), (58, -1.5), (60, -0.7), (62, -0.3), (66, 0.1), (72, 0.5), (76, 1.1), (79, 1.6), (81, 1.8), (83, 1.4), (86, 0.7), (90, 0.1), (95, 0.0), (110, 0.0), (120, -0.05), (130, -0.1), (136, -0.2)]
VGG_2A = [(0, 0.8), (1, 1.5), (3, 1.8), (5, 1.5), (7, 0.5), (10, -0.3), (13, -0.8), (16, -0.6), (20, -1.0), (24, -1.2), (27, -1.5), (30, -1.3), (33, -1.4), (36, -1.0), (40, -0.8), (44, -0.4), (47, 0.0), (50, 0.3), (55, 0.5), (60, 0.5), (70, 0.6), (80, 0.5), (88, 0.4), (90, 0.8), (93, 0.5), (96, 0.6)]
VGG_2B = [(0, 0.8), (2, 2.3), (3, 1.8), (4, 1.5), (5, 0.5), (6, 0.8), (8, 0.2), (11, -0.3), (14, -0.7), (17, -1.0), (20, -1.2), (23, -1.4), (26, -1.7), (28, -1.9), (30, -1.8), (33, -1.6), (36, -1.0), (39, -0.3), (42, 0.2), (45, 0.5), (50, 0.6), (56, 0.5), (60, 0.5), (65, 0.6), (70, 0.7), (75, 1.0), (80, 0.8), (85, 0.6), (90, 0.5), (92, 0.6), (94, 0.2), (96, 0.4)]

VGGOU_5A = [(0, 0.2), (2, 0.0), (20, -0.05), (30, 0.0), (35, 0.1), (38, -0.05), (45, -0.2), (49, 0.0), (50, 1.0), (51, 2.0), (52, 0.5), (53, -2.5), (54, -5.0), (55, -4.5), (56, -3.0), (57, -2.0), (58, -1.6), (59, -1.0), (60, -0.5), (62, -0.2), (66, 0.1), (72, 0.4), (76, 0.9), (80, 1.6), (83, 2.2), (85, 1.8), (88, 1.0), (90, 0.5), (93, 0.1), (100, 0.0), (110, -0.1), (120, -0.2), (130, -0.3), (136, -0.4)]
VGGOU_5B = [(0, 0.2), (2, 0.05), (20, 0.0), (30, 0.05), (35, 0.15), (38, 0.0), (45, -0.15), (49, 0.0), (50, 0.6), (51, 1.2), (52, 0.0), (53, -3.5), (54, -5.6), (55, -4.5), (56, -2.5), (57, -1.8), (58, -1.3), (60, -0.6), (62, -0.3), (66, 0.1), (72, 0.5), (76, 1.0), (79, 1.5), (81, 1.7), (83, 1.3), (86, 0.7), (90, 0.1), (95, 0.0), (110, 0.0), (120, -0.05), (130, -0.1), (136, -0.2)]
VGGOU_2A = [(0, 0.5), (1, 1.5), (3, 2.0), (5, 1.2), (7, 0.3), (10, -0.5), (14, -0.8), (18, -1.0), (22, -1.0), (26, -1.1), (30, -1.3), (34, -1.4), (38, -1.2), (42, -0.8), (46, -0.3), (50, 0.2), (55, 0.4), (60, 0.5), (70, 0.5), (80, 0.4), (88, 0.3), (92, 0.4), (96, 0.2)]
VGGOU_2B = [(0, 0.6), (2, 2.6), (3, 1.5), (4, 0.5), (6, 0.8), (8, 0.0), (10, -0.2), (13, -0.6), (17, -1.0), (21, -1.3), (25, -1.6), (29, -1.9), (32, -1.7), (35, -1.0), (38, 0.0), (41, 0.6), (44, 0.8), (50, 0.7), (56, 0.6), (62, 0.6), (70, 0.5), (75, 0.6), (80, 0.5), (85, 0.3), (90, 0.2), (92, 0.4), (94, 0.1), (96, 0.0)]

INC_5A = [(0, 0.2), (2, 0.0), (20, -0.05), (30, 0.0), (35, 0.1), (38, -0.05), (45, -0.2), (49, 0.0), (50, 0.8), (51, 1.5), (52, 0.5), (53, -1.2), (54, -2.2), (55, -2.5), (56, -2.0), (57, -1.7), (58, -1.5), (59, -1.0), (60, -0.6), (62, -0.2), (66, 0.1), (72, 0.4), (76, 0.9), (80, 1.6), (84, 2.2), (86, 1.9), (88, 1.2), (90, 0.5), (93, 0.1), (100, 0.0), (110, -0.1), (120, -0.2), (130, -0.3), (136, -0.35)]
INC_5B = [(0, 0.3), (2, 0.1), (20, 0.05), (30, 0.05), (35, 0.15), (38, 0.0), (45, -0.15), (49, 0.0), (50, 0.6), (51, 1.0), (52, 0.0), (53, -2.0), (54, -3.2), (55, -3.5), (56, -2.5), (57, -1.8), (58, -1.3), (60, -0.7), (62, -0.3), (66, 0.1), (72, 0.5), (76, 0.9), (79, 1.1), (81, 1.2), (83, 1.0), (86, 0.6), (90, 0.2), (95, 0.05), (110, 0.0), (120, -0.05), (130, -0.15), (136, -0.3)]
INC_2A = [(0, 0.8), (2, 1.2), (4, 1.0), (6, 0.3), (9, -0.2), (12, -0.6), (16, -1.0), (20, -1.2), (24, -1.3), (28, -1.5), (32, -1.2), (36, -1.0), (40, -0.8), (44, -0.5), (47, -0.2), (50, 0.1), (55, 0.3), (60, 0.5), (70, 0.6), (80, 0.6), (88, 0.6), (92, 0.8), (96, 0.7)]
INC_2B = [(0, 0.5), (2, 2.5), (3, 1.5), (5, 0.3), (7, 0.7), (9, 0.0), (12, -0.5), (15, -0.8), (18, -1.0), (21, -1.2), (24, -1.5), (27, -1.7), (30, -1.9), (33, -1.6), (36, -0.8), (39, 0.0), (42, 0.4), (46, 0.5), (50, 0.5), (60, 0.5), (70, 0.4), (75, 0.5), (80, 0.3), (85, 0.2), (88, 0.3), (92, 0.1), (96, 0.2)]

RES_5A = [(0, 0.2), (2, 0.0), (20, -0.05), (30, 0.0), (35, 0.1), (38, -0.05), (45, -0.2), (49, 0.0), (50, 1.0), (51, 2.0), (52, 0.6), (53, -2.0), (54, -3.8), (55, -4.5), (56, -3.0), (57, -1.8), (58, -1.0), (60, -0.5), (62, -0.2), (66, 0.1), (72, 0.4), (76, 0.9), (80, 1.6), (83, 2.0), (85, 1.8), (88, 1.0), (90, 0.5), (93, 0.1), (100, 0.0), (110, -0.1), (120, -0.2), (130, -0.3), (136, -0.35)]
RES_5B = [(0, 0.2), (2, 0.05), (20, 0.0), (30, 0.05), (35, 0.15), (38, 0.0), (45, -0.15), (49, 0.0), (50, 0.7), (51, 1.3), (52, 0.0), (53, -3.0), (54, -4.8), (55, -4.0), (56, -2.5), (57, -1.8), (58, -1.3), (60, -0.7), (62, -0.3), (66, 0.1), (72, 0.5), (76, 1.0), (79, 1.4), (81, 1.6), (83, 1.2), (86, 0.6), (90, 0.1), (95, 0.0), (110, 0.0), (120, -0.05), (130, -0.1), (136, -0.2)]
RES_2A = [(0, 0.5), (2, 1.5), (3, 2.0), (5, 1.3), (8, 0.3), (11, -0.5), (15, -1.0), (20, -1.2), (25, -1.2), (30, -1.3), (35, -1.2), (40, -1.0), (45, -0.5), (50, 0.2), (55, 0.5), (60, 0.6), (70, 0.7), (80, 0.8), (88, 0.7), (92, 0.7), (96, 0.8)]
RES_2B = [(0, 0.8), (2, 2.6), (3, 1.5), (5, 0.6), (7, 0.7), (9, 0.0), (12, -0.5), (15, -0.9), (19, -1.2), (23, -1.5), (27, -1.8), (30, -2.0), (33, -1.7), (36, -1.0), (39, 0.0), (42, 0.5), (46, 0.6), (50, 0.5), (56, 0.6), (60, 0.5), (70, 0.5), (75, 0.7), (80, 0.4), (85, 0.2), (90, 0.2), (92, 0.3), (94, 0.0), (96, 0.2)]

# subplot boxes (left, top, right, bottom) in px, relative to panel origin
BOX_STD = [(30, 14, 248, 104), (277, 14, 496, 104), (30, 135, 248, 224), (277, 135, 496, 224)]
BOX_SSG = [(26, 15, 236, 106), (265, 15, 496, 106), (26, 134, 236, 225), (265, 134, 496, 225)]
BOX_KSH = [(27, 13, 236, 105), (288, 13, 488, 105), (27, 133, 236, 224), (288, 133, 488, 224)]

COL_X = [0, 589]
ROW_Y = 295.8


def std_titles(name):
    return [f"ECGFiveDays class one with {name} average",
            f"ECGFiveDays class two with {name} average",
            f"ECG200 class one with {name} average",
            f"ECG200 class two with {name} average"]


def est_titles(name):
    return [f"Estimate for ECGFiveDays class 1 with {name}",
            f"Estimate for ECGFiveDays class 2 with {name}",
            f"Estimate for ECG200 class 1 with {name}",
            f"Estimate for ECG200 class 2 with {name}"]


PANELS = [
    (0, 0, "(a) Arithmetic", std_titles("Arthimetic"), [ARITH_5A, ARITH_5B, ARITH_2A, ARITH_2B], "std"),
    (1, 0, "(b) DBA's estimates", std_titles("DBA"), [DBA_5A, DBA_5B, DBA_2A, DBA_2B], "std"),
    (0, 1, "(c) SDBA's estimates", std_titles("SDBA"), [SDBA_5A, SDBA_5B, SDBA_2A, SDBA_2B], "std"),
    (1, 1, "(d) SSG's estimates", est_titles("SSG"), [SSG_5A, SSG_5B, SSG_2A, SSG_2B], "ssg"),
    (0, 2, "(e) Kshape's estimates", est_titles("KShape"), [KSHAPE_5A, KSHAPE_5B, KSHAPE_2A, KSHAPE_2B], "ksh"),
    (1, 2, r"(f) $MT\_ENC\_TIME$'s estimates",
     ["ECGFiveDays class one MT_ENC_TIME", "ECGFiveDays class two with MT_ENC_TIME",
      "ECG200 class one with Arthimetic average", "ECG200 class two with MT_ENC_TIME"],
     [MT_5A, MT_5B, MT_2A, MT_2B], "std"),
    (0, 3, r"(g) $VGG\_Quant\_Time$'s estimates", std_titles("VGG_Quant_Time"),
     [VGG_5A, VGG_5B, VGG_2A, VGG_2B], "std"),
    (1, 3, r"(h) $VGG\_OU\_Quant\_Time$'s estimates",
     ["ECGFiveDays class one with VGG_OU_Quant_Time average",
      "ECGFiveDays class two with VGG_OU_Quant_Time average",
      "ECG200 class one with VGG_Quant_OU_Time average",
      "ECG200 class two with VGG_Quant_OU_Time average"],
     [VGGOU_5A, VGGOU_5B, VGGOU_2A, VGGOU_2B], "std"),
    (0, 4, r"(g) $Inc\_Quant\_Time$'s estimates", std_titles("Inc_Quant_Time"),
     [INC_5A, INC_5B, INC_2A, INC_2B], "std"),
    (1, 4, r"(h) $Res\_Quant\_Time$'s estimates", std_titles("Res_Quant_Time"),
     [RES_5A, RES_5B, RES_2A, RES_2B], "std"),
]

# per-subplot data set info: grid, samples, xlim, ylim, yticks, xticks
SUBSETS = [
    (T5, E5_ONE, (-7, 143), (-7.3, 5.8), [-6, -4, -2, 0, 2, 4], range(0, 141, 20)),
    (T5, E5_TWO, (-7, 143), (-7.5, 4.3), [-6, -4, -2, 0, 2, 4], range(0, 141, 20)),
    (T2, E2_ONE, (-4.8, 100.8), (-3.3, 4.2), [-3, -2, -1, 0, 1, 2, 3, 4], range(0, 101, 20)),
    (T2, E2_TWO, (-4.8, 100.8), (-2.7, 3.9), [-2, -1, 0, 1, 2, 3], range(0, 101, 20)),
]


def add_px_axes(fig, left, top, right, bottom):
    return fig.add_axes([left / W, 1 - bottom / H, (right - left) / W, (bottom - top) / H])


def draw_subplot(ax, subset, avg, title, kind):
    t, samples, xlim, ylim, yticks, xticks = subset
    est = kind != "std"
    grey = "#c6c6c6" if est else "#a6a6a6"
    for s in samples:
        ax.plot(t, s, color=grey, lw=0.75, zorder=2)
    xs, ys = zip(*avg)
    if est:
        ax.plot(xs, ys, color="blue", lw=0.9, zorder=3)
    else:
        ax.plot(xs, ys, color="blue", lw=2.0, label="Average", zorder=3)
        leg = ax.legend(loc="upper right", fontsize=3.6, handlelength=3.0,
                        borderpad=0.45, handletextpad=0.7, framealpha=1,
                        borderaxespad=0.4)
        leg.get_frame().set_linewidth(0.4)
    ax.set_xlim(*xlim)
    ax.set_ylim(*ylim)
    ax.set_xticks(list(xticks))
    ax.set_yticks(yticks)
    ax.set_axisbelow(True)
    ax.grid(True, color="#b4b4b4", lw=0.8)
    ax.set_title(title, fontsize=4.9, pad=2)
    ax.set_xlabel("Time", fontsize=4.8, labelpad=0.5)
    ax.set_ylabel("Amplitude" if est else "Attribute", fontsize=4.4, labelpad=1)
    ax.tick_params(labelsize=3.2, length=1.5, width=0.5, pad=1)
    for sp in ax.spines.values():
        sp.set_linewidth(1.0)


def main():
    fig = plt.figure(figsize=(W / 100, H / 100), dpi=100)
    for col, row, caption, titles, avgs, kind in PANELS:
        boxes = {"std": BOX_STD, "ssg": BOX_SSG, "ksh": BOX_KSH}[kind]
        ox, oy = COL_X[col], row * ROW_Y
        for i in range(4):
            l, t, r, b = boxes[i]
            ax = add_px_axes(fig, ox + l, oy + t, ox + r, oy + b)
            draw_subplot(ax, SUBSETS[i], avgs[i], titles[i], kind)
        fig.text((ox + 250) / W, 1 - (oy + 278) / H, caption, ha="center", va="center",
                 fontsize=18, family="cmr10")
    fig.savefig("out.png", dpi=100)


if __name__ == "__main__":
    main()
